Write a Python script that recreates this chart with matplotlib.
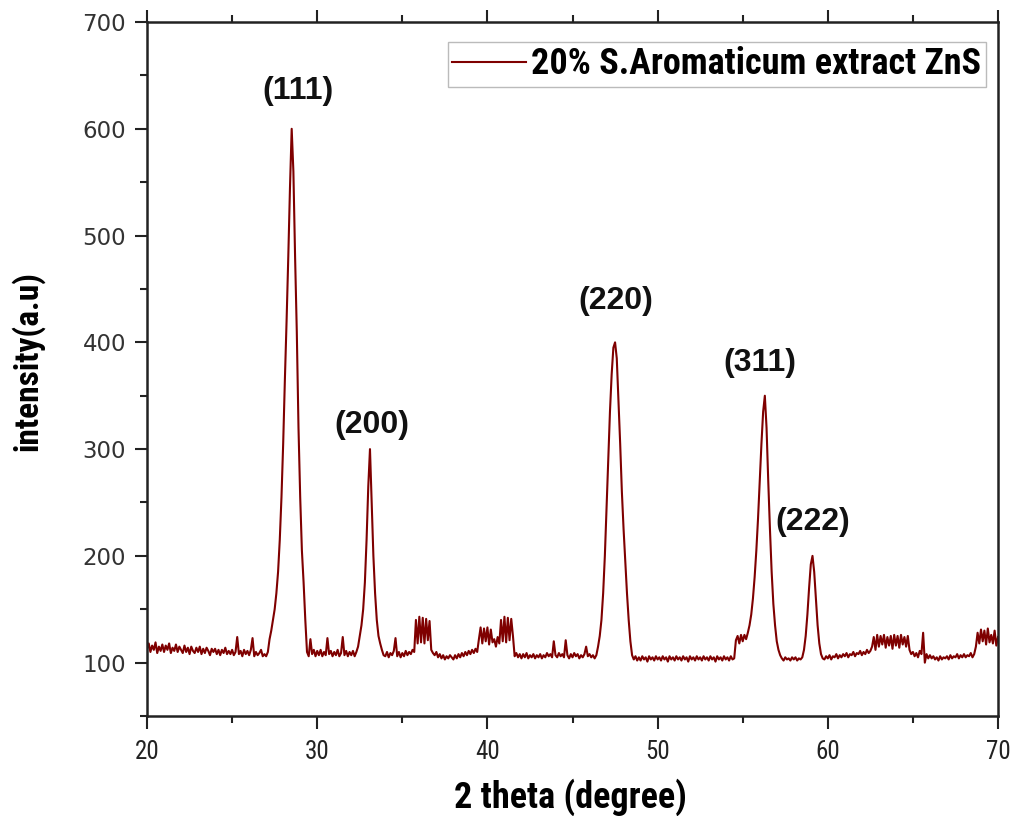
import numpy as np
import matplotlib
matplotlib.use("Agg")
import matplotlib.pyplot as plt
from matplotlib.ticker import MultipleLocator
from matplotlib import font_manager

# ---- data (2theta from 20.0 to 70.0, step 0.1) ----
two_theta_start = 20.0
two_theta_step = 0.1
intensity = [
    113, 118, 110, 116, 112, 119, 109, 115, 111, 117,   # 20
    110, 116, 112, 118, 109, 114, 111, 117, 110, 115,   # 21
    112, 109, 116, 110, 114, 108, 115, 111, 109, 114,   # 22
    110, 115, 108, 113, 109, 114, 111, 107, 113, 110,   # 23
    113, 108, 112, 107, 112, 109, 114, 108, 111, 108,   # 24
    112, 107, 110, 124, 108, 111, 106, 112, 108, 111,   # 25
    107, 112, 123, 106, 110, 107, 109, 112, 106, 108,   # 26
    106, 110, 122, 130, 140, 150, 165, 185, 215, 255,   # 27
    305, 365, 420, 480, 545, 600, 560, 480, 410, 320,   # 28
    255, 205, 175, 140, 110, 106, 122, 108, 112, 106,   # 29
    111, 107, 112, 106, 110, 107, 123, 108, 111, 106,   # 30
    110, 107, 112, 106, 109, 124, 107, 111, 106, 110,   # 31
    107, 111, 106, 110, 115, 125, 135, 150, 175, 215,   # 32
    265, 300, 250, 200, 165, 140, 125, 118, 112, 107,   # 33
    106, 110, 105, 109, 107, 111, 123, 106, 110, 105,   # 34
    109, 106, 111, 107, 110, 108, 112, 110, 140, 118,   # 35
    143, 119, 142, 118, 141, 121, 139, 112, 109, 107,   # 36
    110, 105, 108, 104, 107, 103, 106, 104, 107, 105,   # 37
    103, 107, 104, 108, 105, 109, 106, 110, 107, 111,   # 38
    108, 112, 109, 113, 110, 122, 133, 118, 132, 120,   # 39
    133, 117, 131, 119, 122, 115, 124, 118, 140, 120,   # 40
    143, 119, 142, 121, 141, 125, 106, 109, 105, 108,   # 41
    104, 108, 105, 109, 104, 107, 105, 108, 104, 107,   # 42
    105, 108, 104, 107, 105, 109, 106, 108, 105, 120,   # 43
    107, 105, 109, 106, 108, 105, 121, 107, 104, 108,   # 44
    105, 109, 106, 108, 104, 107, 105, 108, 115, 106,   # 45
    108, 105, 107, 104, 107, 115, 125, 140, 165, 200,   # 46
    245, 290, 335, 370, 395, 400, 385, 345, 305, 260,   # 47
    225, 195, 165, 140, 120, 107, 103, 106, 102, 105,   # 48
    102, 106, 103, 105, 101, 106, 103, 105, 102, 106,   # 49
    103, 105, 102, 106, 103, 105, 101, 106, 103, 105,   # 50
    102, 106, 103, 105, 102, 106, 103, 105, 101, 106,   # 51
    103, 105, 102, 106, 103, 105, 102, 106, 103, 105,   # 52
    102, 106, 103, 105, 101, 106, 103, 105, 102, 106,   # 53
    103, 105, 102, 106, 103, 104, 121, 125, 118, 126,   # 54
    120, 126, 122, 128, 135, 145, 160, 180, 205, 235,   # 55
    270, 305, 335, 350, 320, 270, 225, 185, 155, 135,   # 56
    120, 112, 107, 104, 102, 105, 103, 104, 102, 105,   # 57
    103, 105, 102, 104, 103, 105, 112, 125, 145, 170,   # 58
    192, 200, 185, 160, 135, 118, 108, 104, 103, 106,   # 59
    104, 107, 103, 106, 105, 108, 104, 107, 105, 108,   # 60
    106, 109, 105, 108, 107, 110, 106, 109, 108, 111,   # 61
    107, 110, 108, 112, 109, 111, 115, 124, 112, 126,   # 62
    115, 125, 117, 126, 114, 124, 116, 125, 113, 126,   # 63
    116, 125, 114, 126, 117, 124, 115, 125, 112, 108,   # 64
    110, 106, 109, 105, 111, 108, 128, 100, 108, 104,   # 65
    107, 104, 106, 103, 105, 102, 106, 103, 105, 104,   # 66
    106, 103, 107, 104, 106, 105, 108, 104, 107, 105,   # 67
    108, 105, 107, 106, 109, 105, 108, 115, 128, 118,   # 68
    131, 120, 130, 117, 132, 119, 126, 118, 130, 116,   # 69
    124,                                                # 70
]
two_theta = two_theta_start + two_theta_step * np.arange(len(intensity))

peak_labels = ["(111)", "(200)", "(220)", "(311)", "(222)"]
peak_label_x = [28.9, 33.2, 47.55, 56.0, 59.1]
peak_label_y = [635, 323, 439, 381, 232]

series_label = "20% S.Aromaticum extract ZnS"
x_ticks = [20, 30, 40, 50, 60, 70]
y_ticks = [100, 200, 300, 400, 500, 600, 700]


def first_available(cands):
    for c in cands:
        try:
            font_manager.findfont(font_manager.FontProperties(family=c), fallback_to_default=False)
            return c
        except Exception:
            continue
    return "DejaVu Sans"


narrow_name = first_available(["Liberation Sans Narrow", "Roboto Condensed", "Open Sans Condensed",
                               "DejaVu Sans Condensed", "Liberation Sans"])
is_narrow = narrow_name != "Liberation Sans"
narrow = [narrow_name, "DejaVu Sans"]

fig = plt.figure(figsize=(10.16, 8.16), dpi=100)
ax = fig.add_axes([0.1447, 0.1225, 0.8376, 0.8505])

ax.plot(two_theta, intensity, color="#7f0000", lw=1.5, label=series_label)

ax.set_xlim(20, 70)
ax.set_ylim(50, 700)
ax.set_xticks(x_ticks)
ax.set_yticks(y_ticks)
ax.xaxis.set_minor_locator(MultipleLocator(5))
ax.yaxis.set_minor_locator(MultipleLocator(50))

ax.tick_params(axis="both", which="major", direction="out", length=9, width=1.5, color="#222222")
ax.tick_params(axis="both", which="minor", direction="out", length=5, width=1.5, color="#222222")
ax.tick_params(axis="x", which="both", top=True, bottom=True)
ax.tick_params(axis="y", which="both", left=True, right=False)
ax.tick_params(axis="y", labelsize=16.5, labelcolor="#333333", pad=6)
ax.tick_params(axis="x", labelsize=18 if is_narrow else 16.5, labelcolor="#222222", pad=8)

for lab in ax.get_yticklabels():
    lab.set_family("DejaVu Sans")
for lab in ax.get_xticklabels():
    lab.set_family(narrow)

for sp in ax.spines.values():
    sp.set_linewidth(1.8)
    sp.set_color("#222222")

ax.set_xlabel("2 theta (degree)", fontsize=26 if is_narrow else 23, fontweight="bold", family=narrow)
ax.set_ylabel("intensity(a.u)", fontsize=24 if is_narrow else 22, fontweight="bold", family=narrow)
ax.xaxis.set_label_coords(0.498, -0.117)
ax.yaxis.set_label_coords(-0.141, 0.512)
ax.xaxis.label.set_va("center")
ax.yaxis.label.set_va("center")

for t, px, py in zip(peak_labels, peak_label_x, peak_label_y):
    ax.text(px, py, t, ha="center", va="center", fontsize=23, fontweight="bold",
            family=["Liberation Sans", "DejaVu Sans"], color="#111111")

leg = ax.legend(loc="upper right", bbox_to_anchor=(0.9855, 0.971), frameon=True, fancybox=False,
                prop={"family": narrow, "weight": "bold", "size": 26 if is_narrow else 23},
                handlelength=2.05, handletextpad=0.15, borderpad=0.12, borderaxespad=0.0)
leg.get_frame().set_edgecolor("#aaaaaa")
leg.get_frame().set_linewidth(1.0)

fig.savefig("out.png", dpi=100, facecolor="white")
